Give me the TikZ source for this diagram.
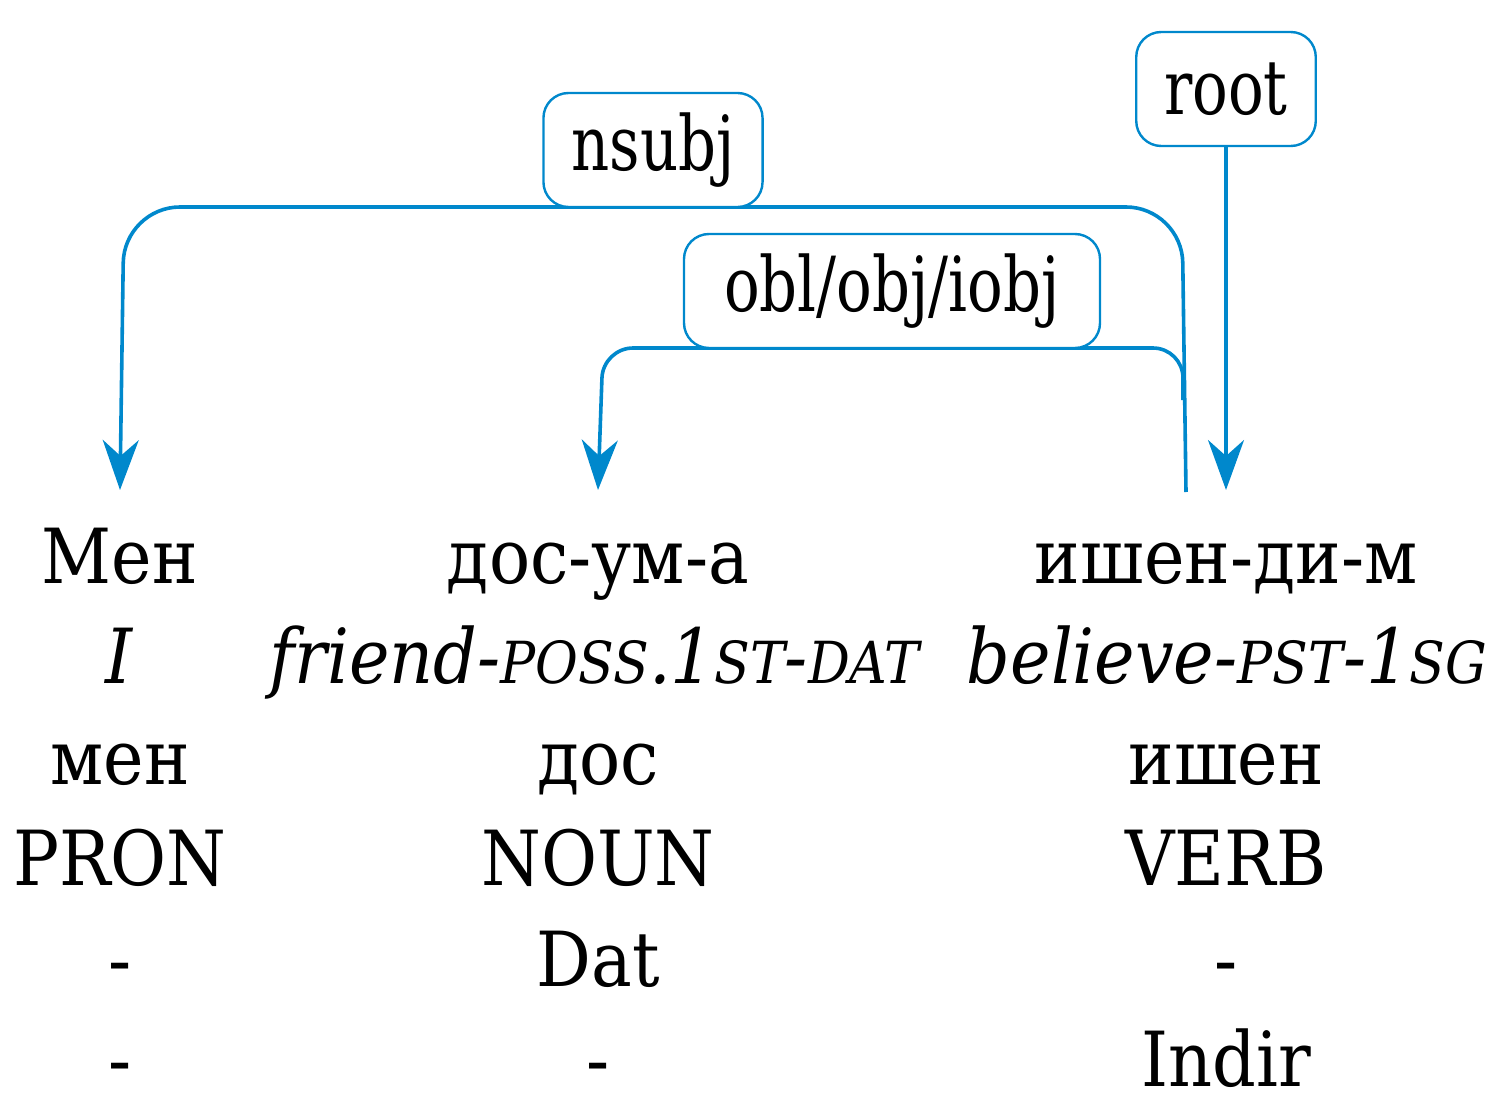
\documentclass[tikz,border=0pt]{standalone}
\usepackage{fontspec}
\setmainfont[FakeStretch=0.9]{DejaVu Serif}
\newfontfamily\labelfont[FakeStretch=0.78]{DejaVu Serif}
\usetikzlibrary{arrows.meta}
\definecolor{udblue}{RGB}{0,136,204}
% small caps made by hand, the font has none
\newcommand{\gsc}[1]{{\fontsize{29}{29}\selectfont #1}}

\begin{document}
\begin{tikzpicture}[x=0.5pt,y=-0.5pt,
  word/.style={anchor=base,inner sep=0pt,font=\fontsize{38}{40}\selectfont},
  deplabel/.style={draw=udblue,line width=1.2pt,rounded corners=12.5pt,fill=white,minimum height=57pt,inner xsep=14pt,font=\labelfont\fontsize{38}{40}\selectfont},
  dep/.style={draw=udblue,line width=1.8pt,-{Stealth[length=25pt,width=18pt,inset=8pt]}}]
    \useasboundingbox (0,0) rectangle (1488,1097);

    % words, one column each
    \node[word] (w1) at (120,583) {Мен};
    \node[word] (g1) at (120,683) {\textit{I}};
    \node[word] (l1) at (120,784) {мен};
    \node[word] (p1) at (120,885) {PRON};
    \node[word] (c1) at (120,986) {-};
    \node[word] (m1) at (120,1086) {-};

    \node[word] (w2) at (598,583) {дос-ум-а};
    \node[word] (g2) at (596,683) {\textit{friend-\gsc{POSS}.1\gsc{ST}-\gsc{DAT}}};
    \node[word] (l2) at (598,784) {дос};
    \node[word] (p2) at (598,885) {NOUN};
    \node[word] (c2) at (598,986) {Dat};
    \node[word] (m2) at (598,1086) {-};

    \node[word] (w3) at (1226,583) {ишен-ди-м};
    \node[word] (g3) at (1227,683) {\textit{believe-\gsc{PST}-1\gsc{SG}}};
    \node[word] (l3) at (1226,784) {ишен};
    \node[word] (p3) at (1226,885) {VERB};
    \node[word] (c3) at (1226,986) {-};
    \node[word] (m3) at (1226,1086) {Indir};

    % arrow ends above the words
    \coordinate (t1) at (120,490);
    \coordinate (t2) at (598,490);
    \coordinate (t3) at (1226,490);
    \coordinate (h3) at (1186,492);
    \coordinate (j3) at (1183,400);

    % relations
    \draw[dep,rounded corners=28pt] (h3) -- (1182,207) -- (124,207) -- (t1);
    \draw[dep,rounded corners=15pt] (j3) -- (1183,348) -- (603,348) -- (t2);

    \node[deplabel] (nsubj) at (653,150) {nsubj};
    \node[deplabel,minimum width=208pt] (obl) at (892,291) {obl/obj/iobj};
    \node[deplabel] (root) at (1226,89) {root};

    \draw[dep] (root) -- (t3);
\end{tikzpicture}
\end{document}
